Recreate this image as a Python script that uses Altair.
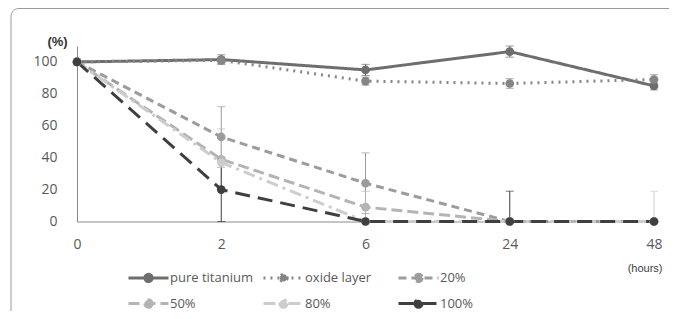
import altair as alt
import pandas as pd

hours = ["0", "2", "6", "24", "48"]
series = ["pure titanium", "oxide layer", "20%", "50%", "80%", "100%"]
ytick_values = [0, 20, 40, 60, 80, 100]

pure_titanium = [100, 101.5, 95, 106.5, 85]
oxide_layer = [100, 101, 88, 86.5, 89]
p20 = [100, 53, 24, 0, 0]
p50 = [100, 39, 9, 0, 0]
p80 = [100, 37, 0, 0, 0]
p100 = [100, 20, 0, 0, 0]

err_pure = [2, 3, 3.5, 3.5, 2.5]
err_oxide = [1.5, 2, 2.5, 3, 3]
err20 = [0, 19, 19, 0, 0]
err50 = [0, 19, 10, 0, 0]
err80 = [0, 3, 0, 0, 19]
err100 = [0, 20, 0, 19, 0]

colors = ["#6e6e6e", "#858585", "#9c9c9c", "#b4b4b4", "#cdcdcd", "#3f3f3f"]
dashes = [[1, 0], [2, 5], [8, 5], [11, 5], [12, 5, 3, 5], [15, 8]]

vals = [pure_titanium, oxide_layer, p20, p50, p80, p100]
errs = [err_pure, err_oxide, err20, err50, err80, err100]

rows = []
for s, v, e in zip(series, vals, errs):
    for h, vi, ei in zip(hours, v, e):
        rows.append({"hour": h, "series": s, "value": vi, "err": ei,
                     "lo": max(vi - ei, 0), "hi": vi + ei})
df = pd.DataFrame(rows)
df_err = df[df["err"] > 0]

FONT = "Open Sans"
legend_path = "M-1.54,0H1.54M0.28,0A0.28,0.28,0,1,1,-0.28,0A0.28,0.28,0,1,1,0.28,0Z"

leg = alt.Legend(
    title=None, orient="none", legendX=57, legendY=217, columns=3,
    direction="horizontal",
    gridAlign="all", columnPadding=4, rowPadding=1,
    symbolType=legend_path, symbolSize=676, symbolStrokeWidth=3,
    labelFont=FONT, labelFontSize=13, labelColor="#595959", labelOffset=7,
)

xaxis = alt.Axis(title="(hours)", labelAngle=0, ticks=False,
                 labelPadding=16, labelFont=FONT, labelFontSize=14,
                 labelColor="#595959", domainColor="#8a8a8a",
                 titleFont="Liberation Sans", titleFontSize=11,
                 titleFontWeight="normal", titleColor="#404040",
                 titleX=585, titleY=47, titleAlign="right",
                 titleBaseline="middle")
yaxis = alt.Axis(title="(%)", values=ytick_values, tickCount=6,
                 ticks=False, grid=False, labelPadding=20, labelOverlap=False,
                 labelFont=FONT, labelFontSize=14, labelColor="#595959",
                 domainColor="#8a8a8a", titleAngle=0,
                 titleFont="Liberation Sans", titleFontSize=13,
                 titleFontWeight="bold", titleColor="#333333",
                 titleX=-20, titleY=-5, titleAlign="center",
                 titleBaseline="middle")
yscale = alt.Scale(domain=[0, 110], nice=False)
xscale = alt.Scale(type="point", padding=0)


def X():
    return alt.X("hour:N", sort=hours, scale=xscale, axis=xaxis)


def Y(field):
    return alt.Y(field, scale=yscale, axis=yaxis)


color = alt.Color("series:N", scale=alt.Scale(domain=series, range=colors), legend=leg)
dash = alt.StrokeDash("series:N", scale=alt.Scale(domain=series, range=dashes), legend=leg)
color_nl = alt.Color("series:N", scale=alt.Scale(domain=series, range=colors), legend=None)

base = alt.Chart(df)

lines = base.mark_line(strokeWidth=3).encode(x=X(), y=Y("value:Q"), color=color, strokeDash=dash)

err_rules = alt.Chart(df_err).mark_rule(strokeWidth=1).encode(
    x=X(), y=Y("lo:Q"), y2="hi:Q", color=color_nl)
cap_hi = alt.Chart(df_err).mark_tick(size=8, thickness=1).encode(
    x=X(), y=Y("hi:Q"), color=color_nl)
cap_lo = alt.Chart(df_err).mark_tick(size=8, thickness=1).encode(
    x=X(), y=Y("lo:Q"), color=color_nl)

points = base.mark_circle(size=75, opacity=1).encode(
    x=X(), y=Y("value:Q"), color=color_nl)

frame = alt.Chart(pd.DataFrame({"a": [0]})).mark_rect(
    fill=None, stroke="#9a9a9a", strokeWidth=1, cornerRadius=8).encode(
    x=alt.value(-66), x2=alt.value(700), y=alt.value(-37.5), y2=alt.value(400))

chart = alt.layer(frame, lines, err_rules, cap_hi, cap_lo, points).properties(
    width=577, height=175.5,
    autosize=alt.AutoSizeParams(type="none"),
    padding={"left": 69, "top": 38, "right": 15, "bottom": 89.5},
    background="white",
).configure_view(stroke=None).configure_axis(labelOverlap=False)

chart.save("out.html", embed_options={"renderer": "svg", "actions": False})
